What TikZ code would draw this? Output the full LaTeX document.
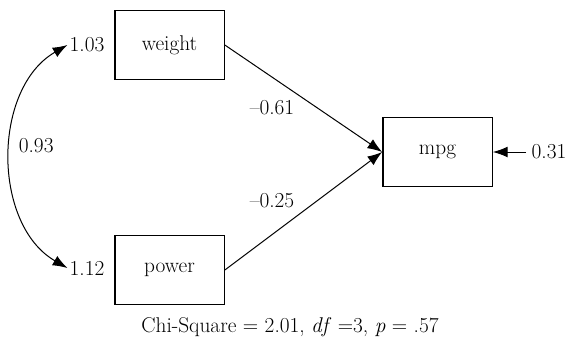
\documentclass[tikz,border=0pt]{standalone}
\usepackage{tikz}
\usetikzlibrary{arrows.meta}

\tikzset{
  var/.style={draw,line width=1pt,minimum width=82pt,minimum height=52pt,inner sep=0pt},
  est/.style={inner sep=1.5pt},
  path/.style={->,line width=0.75pt},
}

\begin{document}
\begin{tikzpicture}[x=0.75pt,y=-0.75pt,font=\fontsize{16}{19}\selectfont,
  >={Latex[length=11pt,width=8pt]}]
\useasboundingbox (0,0) rectangle (568,340);
% observed variables
\node[var] (weight) at (169.5,45) {weight};
\node[var] (power) at (169.5,270) {power};
\node[var] (mpg) at (437.5,152) {mpg};
% variances
\node[est] (vweight) at (87,45) {1.03};
\node[est] (vpower) at (87,268) {1.12};
\node[est,inner sep=4pt] (emp) at (549,152) {0.31};
% paths
\draw[path] (weight.east) -- (mpg.west);
\draw[path] (power.east) -- (mpg.west);
\draw[path] (emp.west) -- (mpg.east);
\node at (272,108) {--0.61};
\node at (272,201) {--0.25};
% covariance
\draw[path,<->] (vweight.west) to[bend right=60] node[pos=0.46,right=2pt] {0.93} (vpower.west);
% fit
\node at (290,327) {Chi-Square = 2.01, \textit{df} =3, \textit{p} = .57};
\end{tikzpicture}
\end{document}
